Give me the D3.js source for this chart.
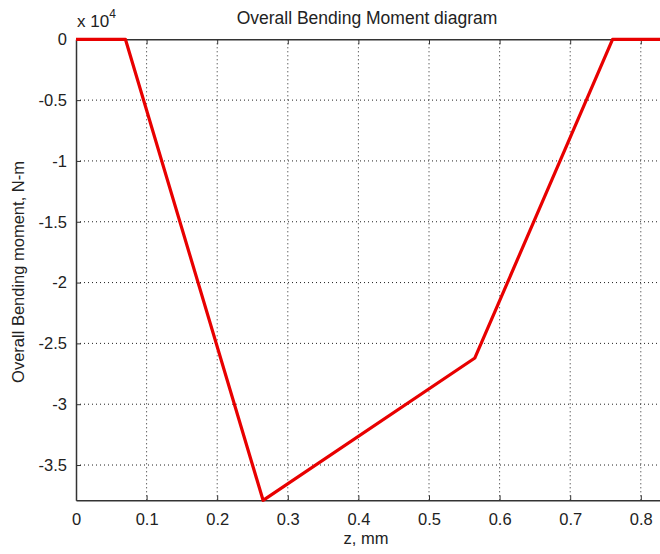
<!DOCTYPE html>
<html><head><meta charset="utf-8">
<script src="https://cdn.jsdelivr.net/npm/d3@7"></script>
<style>body{margin:0;background:#fff;} text{font-family:"Liberation Sans",Arial,sans-serif;fill:#222;}</style>
</head><body>
<svg id="c" width="660" height="554"></svg>
<script>
const zVals = [0, 0.07, 0.265, 0.565, 0.76, 0.83];
const momentVals = [0, 0, -37900, -26200, 0, 0];
const xTicks = [0, 0.1, 0.2, 0.3, 0.4, 0.5, 0.6, 0.7, 0.8];
const yTicks = [0, -5000, -10000, -15000, -20000, -25000, -30000, -35000];

const svg = d3.select("#c");
const L = 76, T = 39.3, B = 500.3;
const px01 = 70.6;
const R = 660;
const x = d3.scaleLinear().domain([0, (R - L) / px01 / 10]).range([L, R]);
const y = d3.scaleLinear().domain([-37900, 0]).range([B, T]);

// grid
const g = svg.append("g");
xTicks.slice(1).forEach(t => g.append("line").attr("x1", x(t)).attr("x2", x(t)).attr("y1", T).attr("y2", B)
  .attr("stroke", "#222").attr("stroke-width", 1).attr("stroke-dasharray", "1,3"));
yTicks.slice(1).forEach(t => g.append("line").attr("x1", L).attr("x2", R).attr("y1", y(t)).attr("y2", y(t))
  .attr("stroke", "#222").attr("stroke-width", 1).attr("stroke-dasharray", "1,3"));

const fmtX = d => d === 0 ? "0" : d3.format(".1f")(d);
const fmtY = d => d === 0 ? "0" : String(d / 10000).replace("\u2212", "-");

// axes
const xa = svg.append("g").attr("transform", `translate(0,${B})`)
  .call(d3.axisBottom(x).tickValues(xTicks).tickSizeInner(-5).tickSizeOuter(0).tickPadding(13).tickFormat(fmtX));
const xt = svg.append("g").attr("transform", `translate(0,${T})`)
  .call(d3.axisTop(x).tickValues(xTicks).tickSizeInner(-5).tickSizeOuter(0).tickFormat(""));
const ya = svg.append("g").attr("transform", `translate(${L},0)`)
  .call(d3.axisLeft(y).tickValues(yTicks).tickSizeInner(-5).tickSizeOuter(0).tickPadding(9).tickFormat(fmtY));
[xa, xt, ya].forEach(a => {
  a.selectAll("path").attr("stroke", "#333").attr("stroke-width", 1.5);
  a.selectAll("line").attr("stroke", "#333");
  a.selectAll("text").style("font-size", "16.5px").attr("fill", "#222");
});

// line
const line = d3.line().x((d, i) => x(zVals[i])).y(d => y(d));
svg.append("path").datum(momentVals).attr("d", line).attr("fill", "none")
  .attr("stroke", "#e80000").attr("stroke-width", 3.2).attr("stroke-linejoin", "round");

// texts
svg.append("text").attr("x", 367).attr("y", 24).attr("text-anchor", "middle").style("font-size", "17.5px").text("Overall Bending Moment diagram");
const ex = svg.append("text").attr("x", 77).attr("y", 27).style("font-size", "17px");
ex.append("tspan").text("x 10");
ex.append("tspan").attr("dy", -9).style("font-size", "12px").text("4");
svg.append("text").attr("x", 366).attr("y", 544).attr("text-anchor", "middle").style("font-size", "16.5px").text("z, mm");
svg.append("text").attr("transform", `translate(24,272) rotate(-90)`).attr("text-anchor", "middle").style("font-size", "16.5px").text("Overall Bending moment, N-m");
</script>
</body></html>
